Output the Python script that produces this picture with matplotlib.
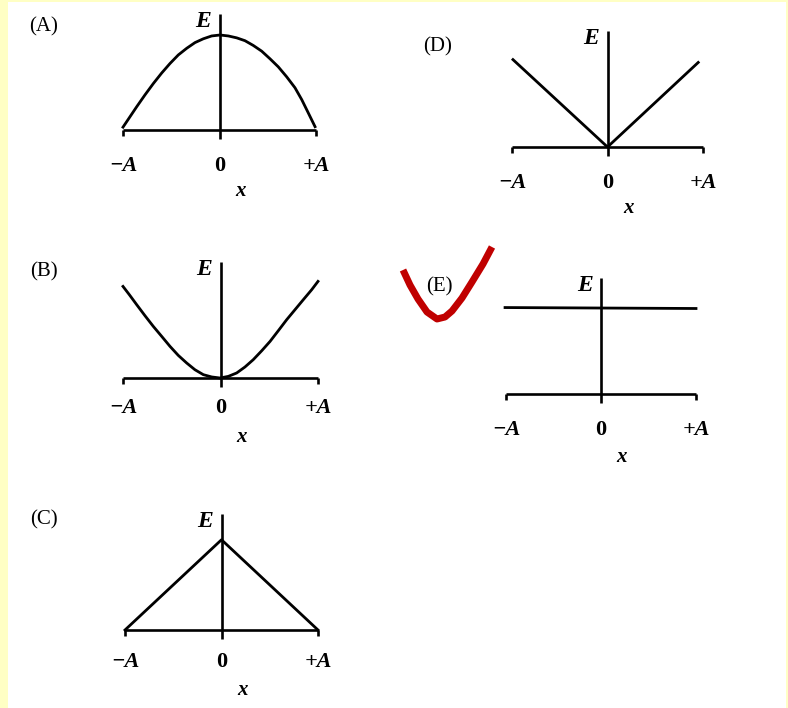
import matplotlib
matplotlib.use("Agg")
import matplotlib.pyplot as plt
from matplotlib.patches import Rectangle

# curves: x in units of A, E in units of the (A) peak
a_x = [-1.0, -0.934, -0.858, -0.772, -0.685, -0.599, -0.513, -0.427, -0.340, -0.254,
       -0.168, -0.081, 0.005, 0.091, 0.178, 0.264, 0.350, 0.437, 0.523, 0.609, 0.696,
       0.782, 0.852, 0.920, 0.990]
a_e = [0.03, 0.13, 0.245, 0.37, 0.49, 0.60, 0.70, 0.79, 0.86, 0.92, 0.96, 0.99, 1.0,
       0.99, 0.97, 0.94, 0.89, 0.83, 0.75, 0.665, 0.56, 0.445, 0.32, 0.18, 0.035]
b_x = [-1.0, -0.935, -0.859, -0.774, -0.689, -0.603, -0.518, -0.433, -0.347, -0.262,
       -0.176, -0.090, -0.005, 0.080, 0.166, 0.251, 0.336, 0.423, 0.508, 0.593, 0.679,
       0.764, 0.849, 0.935, 1.0]
b_e = [0.964, 0.877, 0.771, 0.655, 0.543, 0.438, 0.333, 0.238, 0.158, 0.087, 0.035,
       0.011, 0.0, 0.017, 0.053, 0.116, 0.193, 0.287, 0.385, 0.498, 0.614, 0.719, 0.824,
       0.929, 1.017]
c_x = [-1.0, 0.0, 1.0]
c_e = [0.0, 0.95, 0.0]
d_x = [-0.99, 0.0, 0.95]
d_e = [0.92, 0.0, 0.89]
e_x = [-1.01, 1.0]
e_e = [0.91, 0.90]

tick_labels = ["\u2212A", "0", "+A"]
panel_names = ["(A)", "(B)", "(C)", "(D)", "(E)"]

# red tick mark drawn over (E), in pixels
check_x = [403, 410, 418, 427, 437, 445, 452, 462, 472, 483, 492]
check_y = [270, 285, 299, 312, 319, 317, 311, 298, 282, 264, 247]

W, H = 788, 708
TOP = 1.22      # top of the E axis in data units
PX = 95.0       # pixels per data unit in y

fig = plt.figure(figsize=(W / 100, H / 100), dpi=100, facecolor="#FFFFC4")
fig.patches.append(Rectangle((8 / W, 0), 778 / W, 706 / H, transform=fig.transFigure,
                             facecolor="white", edgecolor="none", zorder=-5))

serif = "Liberation Serif"

# (x0, x1, baseline, label row, x-label row, name position)
layout = [
    (123, 316, 130, 166, 191, (44, 27)),
    (123, 318, 378, 408, 437, (44, 272)),
    (125, 318, 630, 662, 690, (44, 520)),
    (512, 703, 147, 183, 208, (438, 47)),
    (506, 696, 394, 430, 457, (439, 287)),
]
curves = [(a_x, a_e), (b_x, b_e), (c_x, c_e), (d_x, d_e), (e_x, e_e)]

for (x0, x1, base, lab_y, xl_y, (nx, ny)), (cx, ce), name in zip(layout, curves, panel_names):
    ax = fig.add_axes([x0 / W, (H - base) / H, (x1 - x0) / W, TOP * PX / H])
    ax.set_xlim(-1, 1)
    ax.set_ylim(0, TOP)
    ax.axis("off")
    kw = dict(color="black", lw=1.9, clip_on=False, solid_capstyle="butt")
    ax.plot([-1, 1], [0, 0], **kw)
    ax.plot([0, 0], [-0.09, TOP], **kw)
    ax.plot([-1, -1], [0, -0.06], **kw)
    ax.plot([1, 1], [0, -0.06], **kw)
    ax.plot(cx, ce, color="black", lw=2.0, clip_on=False, solid_joinstyle="round")
    ly = -(lab_y - base) / PX
    for xv, t in zip([-1, 0, 1], tick_labels):
        style = "normal" if t == "0" else "italic"
        ax.text(xv, ly, t, ha="center", va="center", fontsize=16, family=serif,
                fontweight="bold", style=style)
    ax.text(0.22, -(xl_y - base) / PX, "x", ha="center", va="center", fontsize=15,
            family=serif, fontweight="bold", style="italic")
    ax.text(-0.17, 1.14, "E", ha="center", va="center", fontsize=17, family=serif,
            fontweight="bold", style="italic")
    fig.text(nx / W, 1 - ny / H, name, ha="center", va="center", fontsize=15, family=serif)

over = fig.add_axes([0, 0, 1, 1])
over.set_xlim(0, W)
over.set_ylim(H, 0)
over.axis("off")
over.patch.set_alpha(0)
over.plot(check_x, check_y, color="#C00000", lw=5, solid_capstyle="butt",
          solid_joinstyle="round")

fig.savefig("out.png", dpi=100, facecolor=fig.get_facecolor())
